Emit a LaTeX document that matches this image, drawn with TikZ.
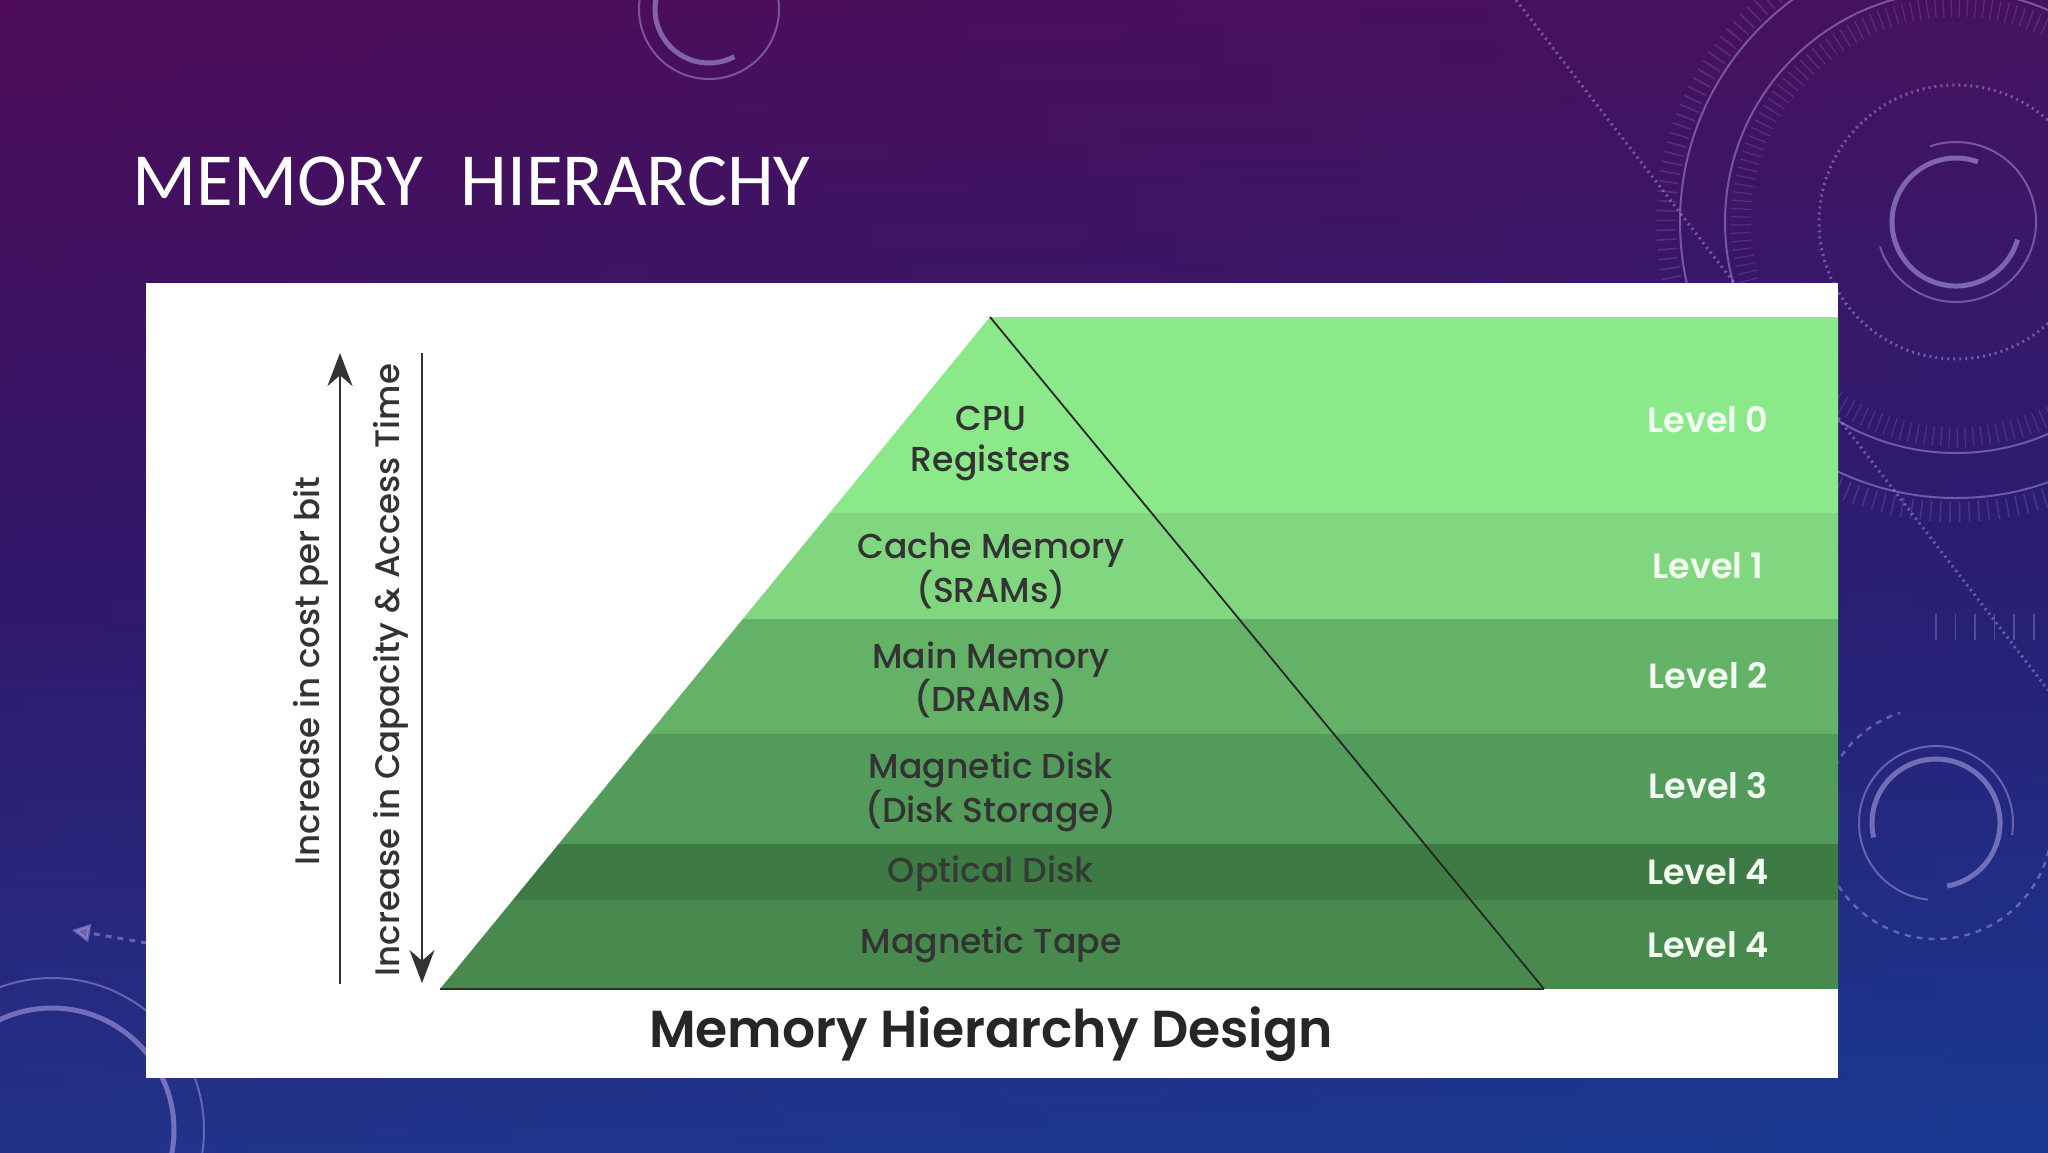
\documentclass[tikz,border=0pt]{standalone}
\usepackage{fontspec}
\setmainfont{Poppins}
\newfontfamily\popsb{Poppins SemiBold}
\newfontfamily\popmd{Poppins Medium}
\newfontfamily\ttlfont{Carlito}
\usetikzlibrary{arrows.meta}
\definecolor{bgtop}{HTML}{4E0C58}
\definecolor{bgmid}{HTML}{2C1A6E}
\definecolor{bgbot}{HTML}{1A3A92}
\definecolor{deco}{HTML}{A99BE0}
\definecolor{gA}{HTML}{8BE98A}
\definecolor{gB}{HTML}{80D780}
\definecolor{gC}{HTML}{63B267}
\definecolor{gD}{HTML}{539B5A}
\definecolor{gE}{HTML}{3E7B44}
\definecolor{gF}{HTML}{488A4E}
\definecolor{lbl}{HTML}{333333}
\definecolor{lvl}{HTML}{F2FFF2}
\begin{document}
\begin{tikzpicture}[x=0.5pt,y=-0.5pt,
  plab/.style={font=\popmd\fontsize{17.3}{20.5}\selectfont, text=lbl, align=center, inner sep=0pt},
  lvlab/.style={font=\popsb\fontsize{17.5}{20}\selectfont, text=lvl, inner sep=0pt},
  vlab/.style={font=\popmd\fontsize{17}{20}\selectfont, text=lbl, rotate=90, inner sep=0pt},
  decoline/.style={draw=deco, opacity=0.5, line width=1pt},
  decothick/.style={draw=deco, opacity=0.6, line width=2.5pt},
  axisarrow/.style={draw=lbl, line width=1pt, -{Stealth[length=16.5pt,width=12.5pt]}},
]
\useasboundingbox (0,0) rectangle (2048,1152);
% background
\shade[top color=bgtop, bottom color=bgbot, middle color=bgmid] (0,0) rectangle (2048,1152);
\shade[left color=bgtop, right color=bgbot, opacity=0.15] (0,0) rectangle (2048,1152);

% decorations top right
\draw[decothick] (1956,222) ++(16:64) arc[start angle=16,end angle=290,radius=64];
\draw[decoline] (1956,222) ++(-109:80) arc[start angle=-109,end angle=162,radius=80];
\draw[decoline, dotted, line width=1.5pt] (1956,222) circle[radius=137];
\draw[decoline] (1956,222) circle[radius=231];
\draw[decoline] (1956,222) circle[radius=276];
\draw[draw=deco, opacity=0.2, line width=10pt, dash pattern=on 0.6pt off 3.4pt] (1956,222) circle[radius=215];
\draw[draw=deco, opacity=0.2, line width=10pt, dash pattern=on 0.8pt off 4pt] (1956,222) circle[radius=290];
\draw[decoline, dotted, line width=1.5pt] (1516,0) -- (2048,690);
\draw[draw=deco, opacity=0.35, line width=13pt, dash pattern=on 0.8pt off 9pt] (1935,627) -- (2048,627);
% top centre
\draw[decothick] (709,9) ++(62:54) arc[start angle=62,end angle=250,radius=54];
\draw[decoline] (709,9) circle[radius=70];
% right middle
\draw[decothick] (1936,823) ++(167:64) arc[start angle=167,end angle=440,radius=64];
\draw[decoline] (1936,823) ++(96:77) arc[start angle=96,end angle=369,radius=77];
\draw[decoline, dashed, line width=1.2pt] (1936,823) ++(-10:116) arc[start angle=-10,end angle=252,radius=116];
% bottom left
\draw[decothick] (52,1130) circle[radius=122];
\draw[decoline] (52,1130) circle[radius=152];
\coordinate (daS) at (147,943);
\coordinate (daE) at (72,930);
\draw[decoline, dashed, line width=1.5pt, -{Triangle[length=9pt,width=9pt]}] (daS) -- (daE);

% title
\node[font=\ttlfont\fontsize{37.5}{40}\selectfont, text=white, anchor=base west, inner sep=0pt] (title) at (132,205) {MEMORY\hspace{0.5em}HIERARCHY};

% white panel
\fill[white] (146,283) rectangle (1838,1078);

% pyramid bands
\begin{scope}
\clip (990,317) -- (1838,317) -- (1838,989) -- (440,989) -- cycle;
\fill[gA] (400,317) rectangle (1840,513);
\fill[gB] (400,513) rectangle (1840,619);
\fill[gC] (400,619) rectangle (1840,734);
\fill[gD] (400,734) rectangle (1840,844);
\fill[gE] (400,844) rectangle (1840,900);
\fill[gF] (400,900) rectangle (1840,989);
\end{scope}
\coordinate (apex) at (990,317);
\coordinate (br) at (1544,989);
\coordinate (bl) at (440,989);
\draw[line width=0.9pt, black!85] (apex) -- (br);
\draw[line width=0.8pt, black!55!gE] (bl) -- (br);

% pyramid labels
\node[plab] (l0) at (991,444) {CPU\\Registers};
\node[plab] (l1) at (991,571) {Cache Memory\\(SRAMs)};
\node[plab] (l2) at (991,680) {Main Memory\\(DRAMs)};
\node[plab] (l3) at (991,792) {Magnetic Disk\\(Disk Storage)};
\node[plab, text=lbl!90!gE] (l4) at (991,874) {Optical Disk};
\node[plab] (l5) at (991,945) {Magnetic Tape};

% level labels
\node[lvlab] (v0) at (1708,420) {Level 0};
\node[lvlab] (v1) at (1708,566) {Level 1};
\node[lvlab] (v2) at (1708,676) {Level 2};
\node[lvlab] (v3) at (1708,786) {Level 3};
\node[lvlab] (v4) at (1708,872) {Level 4};
\node[lvlab] (v5) at (1708,945) {Level 4};

% axes
\coordinate (upS) at (340,984);
\coordinate (upE) at (340,353);
\coordinate (dnS) at (422,353);
\coordinate (dnE) at (422,983);
\draw[axisarrow] (upS) -- (upE);
\draw[axisarrow] (dnS) -- (dnE);
\node[vlab] (cost) at (311,671) {Increase in cost per bit};
\node[vlab] (capa) at (391,670) {Increase in Capacity \& Access Time};

% caption
\node[font=\popsb\fontsize{26}{30}\selectfont, text=black!85, inner sep=0pt] (caption) at (991,1034) {Memory Hierarchy Design};
\end{tikzpicture}
\end{document}
